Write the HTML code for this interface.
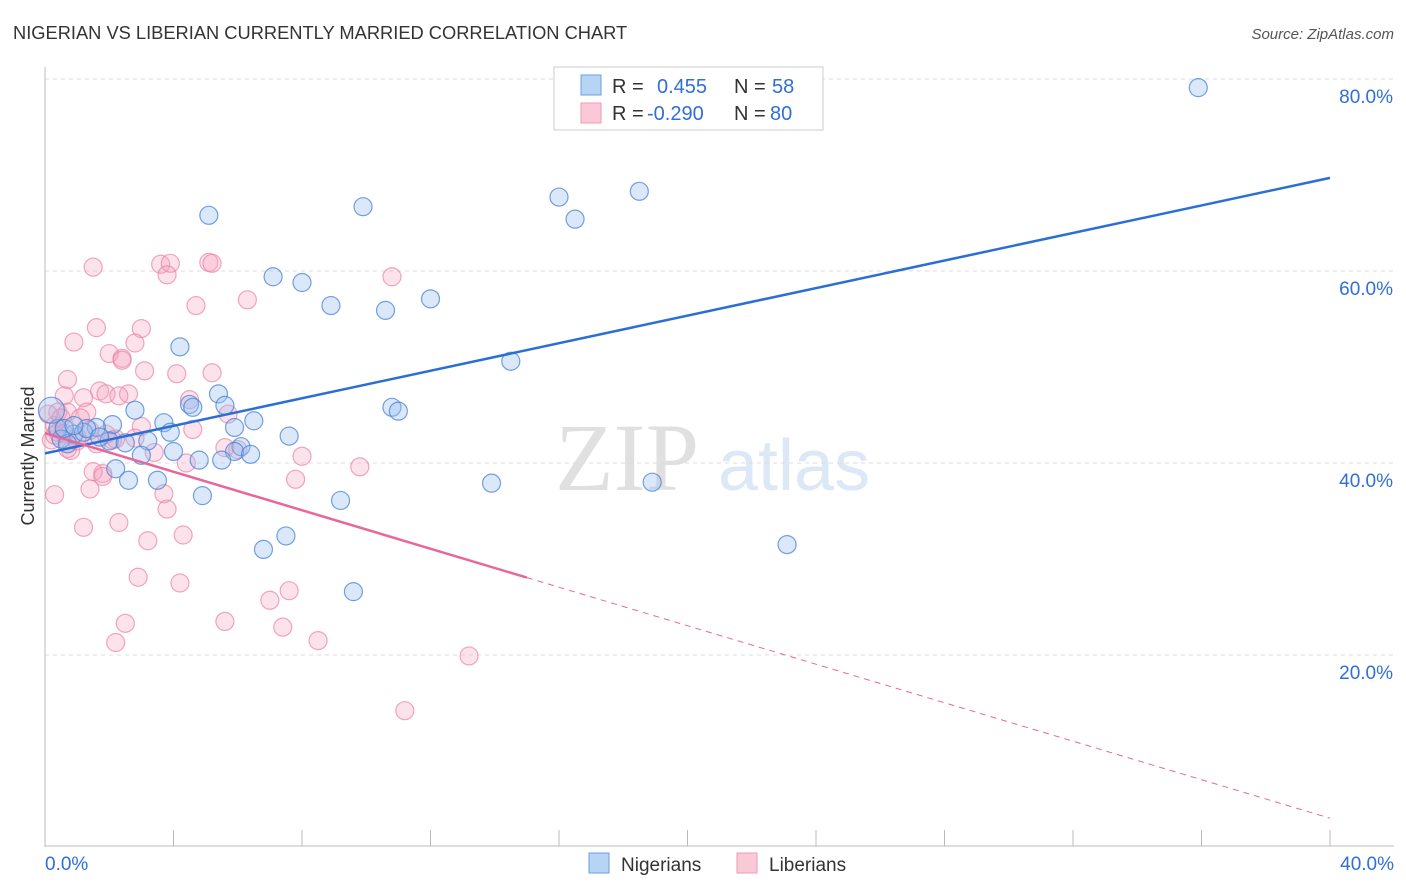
<!DOCTYPE html>
<html><head><meta charset="utf-8"><style>
body{margin:0;background:#fff;font-family:"Liberation Sans",sans-serif;}
#wrap{position:relative;width:1406px;height:892px;overflow:hidden;}
</style></head><body>
<div id="wrap">
<svg id="svg" width="1406" height="892" xmlns="http://www.w3.org/2000/svg">
<text x="13" y="39" font-size="18.3" fill="#333">NIGERIAN VS LIBERIAN CURRENTLY MARRIED CORRELATION CHART</text>
<text x="1394" y="39" font-size="15" fill="#555" font-style="italic" text-anchor="end">Source: ZipAtlas.com</text>
<text x="34" y="456" font-size="18" fill="#333" text-anchor="middle" transform="rotate(-90 34 456)">Currently Married</text>
<text x="555" y="490" font-size="96" fill="#e0e0e0" font-family="Liberation Serif,serif">ZIP</text>
<text x="718" y="490" font-size="72" fill="#dde8f6">atlas</text>
<g id="grid"></g><g id="marks"></g><g id="lines"></g>
<g>
<rect x="554" y="67" width="269" height="63" fill="#fff" stroke="#ccc"/>
<rect x="581" y="75" width="20" height="20" fill="#b8d4f5" stroke="#6a9fe0"/>
<rect x="581" y="103" width="20" height="20" fill="#fbc8d8" stroke="#ef9ab5"/>
<text x="612" y="93" font-size="20" fill="#333">R =</text>
<text x="657" y="93" font-size="20" fill="#2f6fd6">0.455</text>
<text x="734" y="93" font-size="20" fill="#333">N =</text>
<text x="772" y="93" font-size="20" fill="#2f6fd6">58</text>
<text x="612" y="120" font-size="20" fill="#333">R =</text>
<text x="647" y="120" font-size="20" fill="#2f6fd6">-0.290</text>
<text x="734" y="120" font-size="20" fill="#333">N =</text>
<text x="770" y="120" font-size="20" fill="#2f6fd6">80</text>
</g>
<g>
<rect x="589" y="853" width="20" height="20" fill="#b8d4f5" stroke="#6a9fe0"/>
<text x="621" y="871" font-size="19" fill="#333">Nigerians</text>
<rect x="737" y="853" width="20" height="20" fill="#fbc8d8" stroke="#ef9ab5"/>
<text x="769" y="871" font-size="19" fill="#333">Liberians</text>
</g>
</svg></div>
<script>
const yTicks=[20,40,60,80];
const xTickLabels=["0.0%","40.0%"];
const blueX=[35.9,18.5,16.0,16.5,9.9,5.1,7.1,8.0,8.9,10.6,12.0,4.2,14.5,5.4,4.5,4.6,5.6,2.8,10.8,11.0,3.7,6.5,5.9,2.1,1.6,3.9,7.6,0.9,0.4,0.2,0.5,0.7,2.0,2.5,3.2,4.0,3.0,6.1,5.9,6.4,4.8,5.5,2.2,2.6,3.5,4.9,9.2,13.9,18.9,23.1,7.5,6.8,9.6,1.2,1.3,0.6,1.7,0.9];
const blueY=[79.1,68.3,67.7,65.4,66.7,65.8,59.4,58.8,56.4,55.9,57.1,52.1,50.6,47.2,46.1,45.8,46.0,45.5,45.8,45.4,44.2,44.4,43.7,44.0,43.7,43.2,42.8,43.0,43.6,45.5,42.5,42.0,42.3,42.1,42.3,41.2,40.8,41.7,41.2,40.9,40.3,40.3,39.4,38.2,38.2,36.6,36.1,37.9,38.0,31.5,32.4,31.0,26.6,43.2,43.6,43.6,42.7,43.9];
const pinkX=[1.5,3.6,3.9,3.8,5.1,5.2,10.8,4.7,6.3,1.6,3.0,0.9,2.8,2.0,2.4,2.4,3.1,4.1,5.2,0.7,1.7,2.6,0.6,1.9,1.2,4.5,2.3,0.4,0.7,1.3,5.7,3.0,4.6,2.1,1.6,0.8,0.7,5.6,6.0,3.4,8.0,4.4,9.8,1.5,1.8,1.8,7.8,1.4,0.3,3.7,3.8,1.2,2.3,3.2,4.3,2.9,4.2,7.6,7.0,2.5,5.6,7.4,2.2,8.5,13.2,11.2,0.2,0.4,0.3,1.0,1.4,0.5,0.1,2.2,1.1,1.0,0.3,0.6,1.9,2.8];
const pinkY=[60.4,60.7,60.8,59.6,60.9,60.8,59.4,56.4,57.0,54.1,54.0,52.6,52.5,51.4,50.9,50.7,49.6,49.3,49.4,48.7,47.5,47.2,47.0,47.2,46.8,46.6,47.0,45.3,45.3,45.3,45.1,43.8,43.5,42.4,42.0,41.3,41.5,41.6,41.4,41.1,40.7,40.0,39.6,39.1,38.9,38.6,38.3,37.3,36.7,36.8,35.2,33.3,33.8,31.9,32.5,28.1,27.5,26.7,25.7,23.3,23.5,22.9,21.3,21.5,19.9,14.2,42.4,43.2,43.9,42.7,43.4,44.7,45.1,42.5,44.7,42.3,42.9,43.1,43.0,42.6];
const blueLine=[41.0,69.7];
const pinkLine=[43.1,3.0];
const pinkSolidEnd=15.0;
const NS="http://www.w3.org/2000/svg";
const X=v=>45+v/40*1285, Y=v=>847-v*9.6;
function mk(tag,attrs,parent){const e=document.createElementNS(NS,tag);for(const k in attrs)e.setAttribute(k,attrs[k]);parent.appendChild(e);return e;}
const grid=document.getElementById('grid'),marks=document.getElementById('marks'),lines=document.getElementById('lines');
yTicks.forEach(t=>{
 const l=mk('line',{x1:45,x2:1394,y1:Y(t),y2:Y(t),stroke:'#ddd','stroke-dasharray':'4,4'},grid);
 
 
 const tx=mk('text',{x:1393,y:Y(t)+24,'font-size':19,fill:'#2f6fd6','text-anchor':'end'},grid);
 tx.textContent=t.toFixed(1)+'%';
 
 
});
const ax=mk('line',{x1:45,x2:45,y1:67,y2:847,stroke:'#bbb'},grid);


const axx=mk('line',{x1:45,x2:1394,y1:846,y2:846,stroke:'#bbb'},grid);


for(let i=1;i<=10;i++){const t=mk('line',{x1:X(i*4),x2:X(i*4),y1:830,y2:846,stroke:'#bbb'},grid);
 
 }
xTickLabels.forEach((s,i)=>{const t=mk('text',{x:i?1394:45,y:870,'font-size':19,fill:'#2f6fd6','text-anchor':i?'end':'start'},grid);t.textContent=s;
 
 });
pinkX.forEach((v,i)=>{const c=mk('circle',{cx:X(v),cy:Y(pinkY[i]),r:9,fill:'rgba(245,160,190,0.3)',stroke:'rgba(235,130,165,0.7)','stroke-width':1.2},marks);
 
 });
blueX.forEach((v,i)=>{const c=mk('circle',{cx:X(v),cy:Y(blueY[i]),r:i==29?13:9,fill:'rgba(150,190,240,0.35)',stroke:'rgba(70,130,215,0.75)','stroke-width':1.2},marks);
 
 });
const pl=v=>pinkLine[0]+(pinkLine[1]-pinkLine[0])*v/40;
const bl=mk('line',{x1:X(0),y1:Y(blueLine[0]),x2:X(40),y2:Y(blueLine[1]),stroke:'#2a6fd6','stroke-width':2.5},lines);


const p1=mk('line',{x1:X(0),y1:Y(pl(0)),x2:X(pinkSolidEnd),y2:Y(pl(pinkSolidEnd)),stroke:'#e8679a','stroke-width':2.5},lines);


const p2=mk('line',{x1:X(pinkSolidEnd),y1:Y(pl(pinkSolidEnd)),x2:X(40),y2:Y(pl(40)),stroke:'#e8679a','stroke-width':1,'stroke-dasharray':'6,5'},lines);


</script>
</body></html>
